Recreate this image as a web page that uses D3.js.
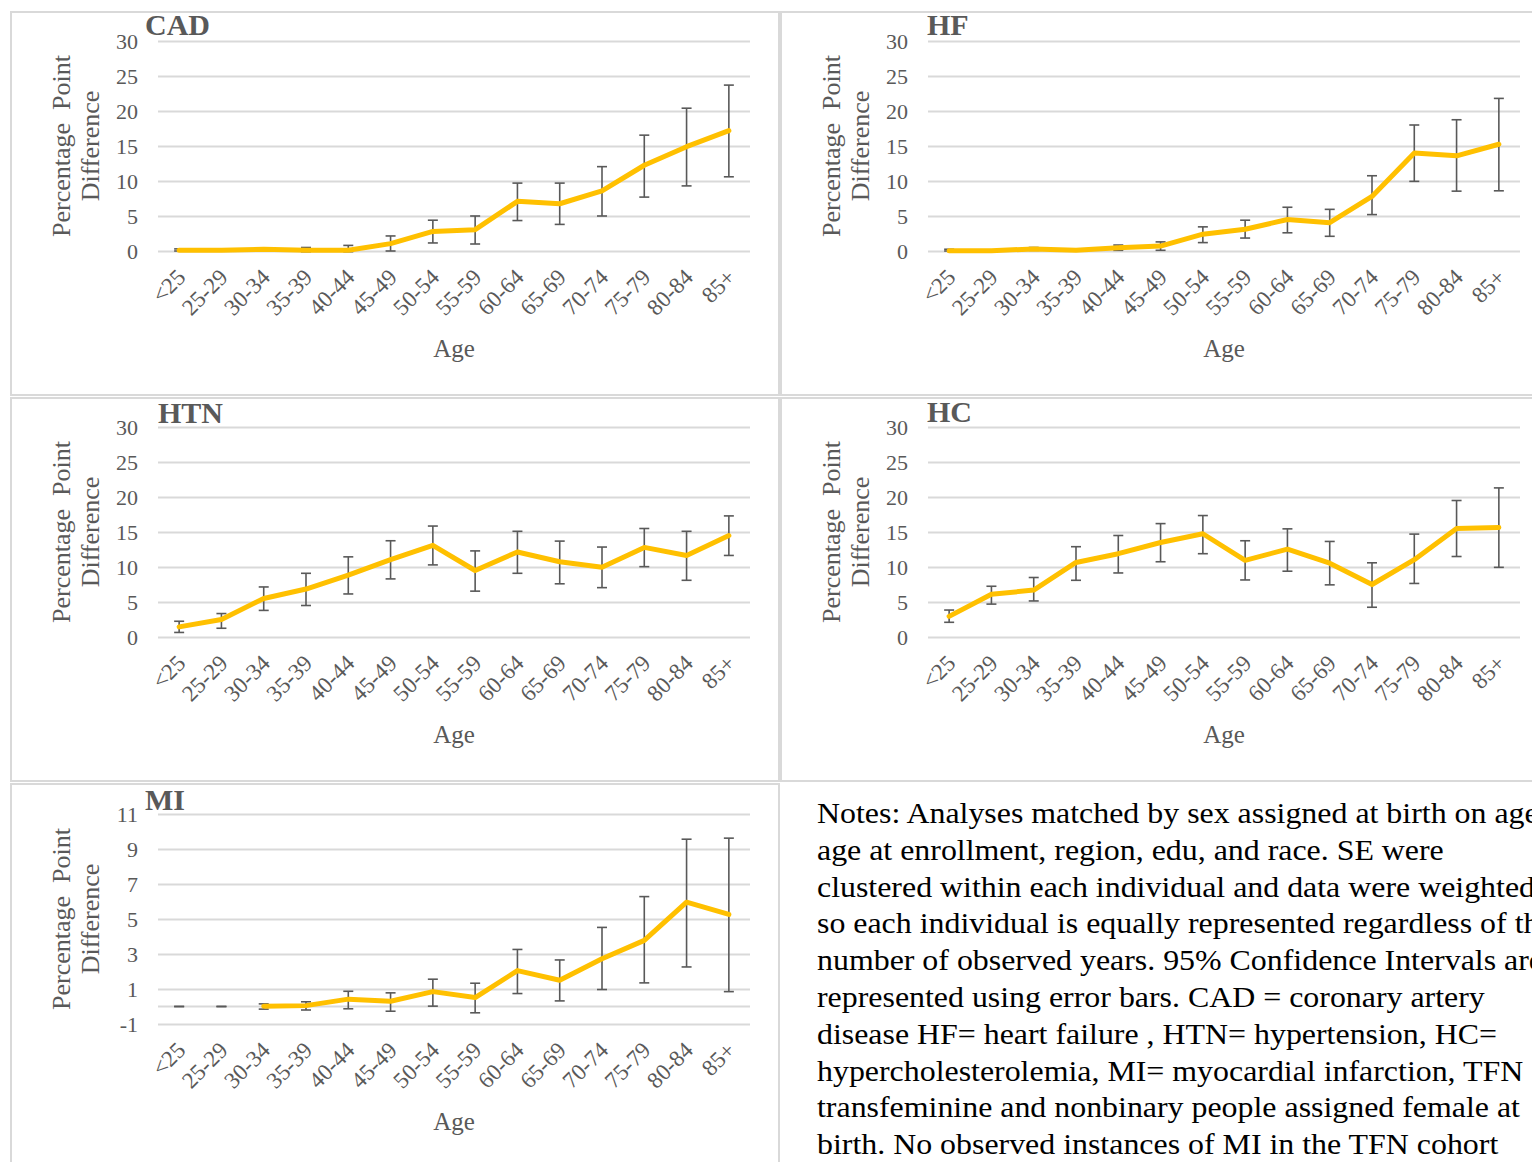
<!DOCTYPE html>
<html>
<head>
<meta charset="utf-8">
<script src="https://cdn.jsdelivr.net/npm/d3@7"></script>
<style>
	body { margin: 0; background: #fff; }
	text { font-family: "Liberation Serif", "Times New Roman", serif; }
</style>
</head>
<body>
<div id="chart"></div>
<script>

// categories
var ages = ["<25","25-29","30-34","35-39","40-44","45-49","50-54","55-59","60-64","65-69","70-74","75-79","80-84","85+"];

// CAD
var cadVal = [0.1, 0.1, 0.25, 0.1, 0.1, 1.05, 2.8, 3.05, 7.1, 6.75, 8.6, 12.25, 14.9, 17.2];
var cadLo  = [0, 0.05, 0.05, -0.1, -0.1, 0, 1.15, 1.0, 4.35, 3.8, 5.0, 7.7, 9.3, 10.6];
var cadHi  = [0.3, 0.15, 0.45, 0.5, 0.8, 2.15, 4.4, 5.0, 9.7, 9.7, 12.05, 16.55, 20.4, 23.7];

// HF
var hfVal = [0.05, 0.05, 0.3, 0.1, 0.45, 0.7, 2.4, 3.1, 4.5, 4.05, 7.8, 14.0, 13.6, 15.25];
var hfLo  = [0, 0, 0.1, 0, 0.1, 0.1, 1.2, 1.85, 2.6, 2.1, 5.2, 9.95, 8.55, 8.6];
var hfHi  = [0.25, 0.1, 0.5, 0.2, 0.85, 1.3, 3.45, 4.4, 6.25, 5.95, 10.75, 18.0, 18.75, 21.8];

// HTN
var htnVal = [1.45, 2.5, 5.5, 6.85, 8.85, 11.05, 13.1, 9.5, 12.15, 10.75, 9.95, 12.8, 11.65, 14.5];
var htnLo  = [0.65, 1.25, 3.8, 4.5, 6.15, 8.3, 10.3, 6.55, 9.1, 7.6, 7.05, 10.05, 8.1, 11.65];
var htnHi  = [2.25, 3.35, 7.15, 9.1, 11.45, 13.75, 15.85, 12.3, 15.1, 13.7, 12.85, 15.5, 15.1, 17.3];

// HC
var hcVal = [2.95, 6.1, 6.7, 10.65, 11.9, 13.5, 14.75, 10.95, 12.55, 10.55, 7.5, 11.05, 15.5, 15.65];
var hcLo  = [2.1, 4.7, 5.15, 8.1, 9.15, 10.75, 11.9, 8.15, 9.4, 7.45, 4.25, 7.65, 11.5, 9.95];
var hcHi  = [3.85, 7.25, 8.5, 12.9, 14.5, 16.2, 17.35, 13.75, 15.45, 13.65, 10.6, 14.7, 19.5, 21.3];

// MI (no observed instances in the two youngest groups)
var miVal = [null, null, 0.02, 0.05, 0.42, 0.3, 0.85, 0.51, 2.05, 1.5, 2.73, 3.78, 5.96, 5.26];
var miLo  = [0, 0, -0.15, -0.2, -0.13, -0.27, 0.02, -0.36, 0.74, 0.32, 0.97, 1.35, 2.26, 0.85];
var miHi  = [0, 0, 0.15, 0.27, 0.87, 0.78, 1.56, 1.33, 3.26, 2.66, 4.52, 6.28, 9.56, 9.62];

var ticks30 = [0, 5, 10, 15, 20, 25, 30];
var ticksMI = [-1, 1, 3, 5, 7, 9, 11];

var notes = [
	"Notes: Analyses matched by sex assigned at birth on age,",
	"age at enrollment, region, edu, and race. SE were",
	"clustered within each individual and data were weighted",
	"so each individual is equally represented regardless of the",
	"number of observed years. 95% Confidence Intervals are",
	"represented using error bars. CAD = coronary artery",
	"disease HF= heart failure , HTN= hypertension, HC=",
	"hypercholesterolemia, MI= myocardial infarction, TFN =",
	"transfeminine and nonbinary people assigned female at",
	"birth. No observed instances of MI in the TFN cohort"
];

var panels = [
	{title: "CAD", val: cadVal, lo: cadLo, hi: cadHi, col: 0, row: 0, domain: [0, 30], ticks: ticks30, tx: -13, ty: -6},
	{title: "HF",  val: hfVal,  lo: hfLo,  hi: hfHi,  col: 1, row: 0, domain: [0, 30], ticks: ticks30, tx: -1, ty: -6},
	{title: "HTN", val: htnVal, lo: htnLo, hi: htnHi, col: 0, row: 1, domain: [0, 30], ticks: ticks30, tx: 0, ty: -4},
	{title: "HC",  val: hcVal,  lo: hcLo,  hi: hcHi,  col: 1, row: 1, domain: [0, 30], ticks: ticks30, tx: -1, ty: -5},
	{title: "MI",  val: miVal,  lo: miLo,  hi: miHi,  col: 0, row: 2, domain: [-1, 11], ticks: ticksMI, tx: -13, ty: -4}
];

var W = 1532, H = 1162;
var grey = "#595959", grid = "#d9d9d9", gold = "#FFC000";
var plotW = 592, plotH = 210;
var colX = [158, 928];
var rowY = [41, 427, 814];

var svg = d3.select("#chart").append("svg")
	.attr("width", W)
	.attr("height", H);

// panel frames
var frames = [[11, 12, 768, 383], [781, 12, 770, 383], [11, 398, 768, 383], [781, 398, 770, 383], [11, 784, 768, 400]];
frames.forEach(function(f) {
	svg.append("rect")
		.attr("x", f[0]).attr("y", f[1])
		.attr("width", f[2]).attr("height", f[3])
		.attr("fill", "none")
		.attr("stroke", grid)
		.attr("stroke-width", 2);
});

panels.forEach(function(p) {
	var g = svg.append("g")
		.attr("transform", "translate(" + colX[p.col] + "," + rowY[p.row] + ")");

	var x = d3.scalePoint().domain(ages).range([0, plotW]).padding(0.5);
	var y = d3.scaleLinear().domain(p.domain).range([plotH, 0]);

	// gridlines + y labels
	var yAxis = g.append("g")
		.call(d3.axisLeft(y).tickValues(p.ticks).tickSize(-plotW).tickPadding(20).tickFormat(function(d) { return String(d); }));
	yAxis.select(".domain").remove();
	yAxis.selectAll("line").attr("stroke", grid).attr("stroke-width", 2);
	yAxis.selectAll("text").attr("fill", grey).style("font-size", "22px");

	// zero axis line (MI has it between gridlines)
	if (p.domain[0] < 0) {
		g.append("line")
			.attr("x1", 0).attr("x2", plotW)
			.attr("y1", y(0)).attr("y2", y(0))
			.attr("stroke", grid).attr("stroke-width", 2);
	}

	// x labels, rotated
	g.selectAll(".xlab")
		.data(ages)
		.enter().append("text")
		.attr("class", "xlab")
		.attr("transform", function(d) { return "translate(" + (x(d) + 2) + "," + (plotH + 22) + ") rotate(-45)"; })
		.attr("text-anchor", "end")
		.attr("dy", "0.35em")
		.attr("fill", grey)
		.style("font-size", "23px")
		.text(function(d) { return d; });

	// error bars
	var rows = ages.map(function(a, i) { return {a: a, v: p.val[i], lo: p.lo[i], hi: p.hi[i]}; });
	var eb = g.selectAll(".eb").data(rows).enter().append("g").attr("class", "eb")
		.attr("stroke", grey).attr("stroke-width", 1.6);
	eb.append("line")
		.attr("x1", function(d) { return x(d.a); }).attr("x2", function(d) { return x(d.a); })
		.attr("y1", function(d) { return y(d.lo); }).attr("y2", function(d) { return y(d.hi); });
	eb.append("line")
		.attr("x1", function(d) { return x(d.a) - 5; }).attr("x2", function(d) { return x(d.a) + 5; })
		.attr("y1", function(d) { return y(d.lo); }).attr("y2", function(d) { return y(d.lo); });
	eb.append("line")
		.attr("x1", function(d) { return x(d.a) - 5; }).attr("x2", function(d) { return x(d.a) + 5; })
		.attr("y1", function(d) { return y(d.hi); }).attr("y2", function(d) { return y(d.hi); });

	// the line
	g.append("path")
		.datum(rows)
		.attr("fill", "none")
		.attr("stroke", gold)
		.attr("stroke-width", 5)
		.attr("stroke-linejoin", "round")
		.attr("stroke-linecap", "round")
		.attr("d", d3.line()
			.defined(function(d) { return d.v !== null; })
			.x(function(d) { return x(d.a); })
			.y(function(d) { return y(d.v); }));

	// title
	g.append("text")
		.attr("x", p.tx).attr("y", p.ty)
		.attr("fill", grey)
		.style("font-size", "30px")
		.style("font-weight", "bold")
		.text(p.title);

	// y axis title (two lines)
	var yt = g.append("text")
		.attr("transform", "translate(-88," + (plotH / 2) + ") rotate(-90)")
		.attr("text-anchor", "middle")
		.attr("fill", grey)
		.style("font-size", "26px")
		.style("white-space", "pre");
	yt.append("tspan").attr("x", 0).attr("dy", 0).text("Percentage  Point");
	yt.append("tspan").attr("x", 0).attr("dy", 29).text("Difference");

	// x axis title
	g.append("text")
		.attr("x", plotW / 2).attr("y", plotH + 106)
		.attr("text-anchor", "middle")
		.attr("fill", grey)
		.style("font-size", "25px")
		.text("Age");
});

// notes
svg.append("g").selectAll("text")
	.data(notes)
	.enter().append("text")
	.attr("transform", function(d, i) { return "translate(817," + (823 + i * 36.8) + ") scale(1.1,1)"; })
	.attr("fill", "#000")
	.style("font-size", "29px")
	.text(function(d) { return d; });

</script>
</body>
</html>
